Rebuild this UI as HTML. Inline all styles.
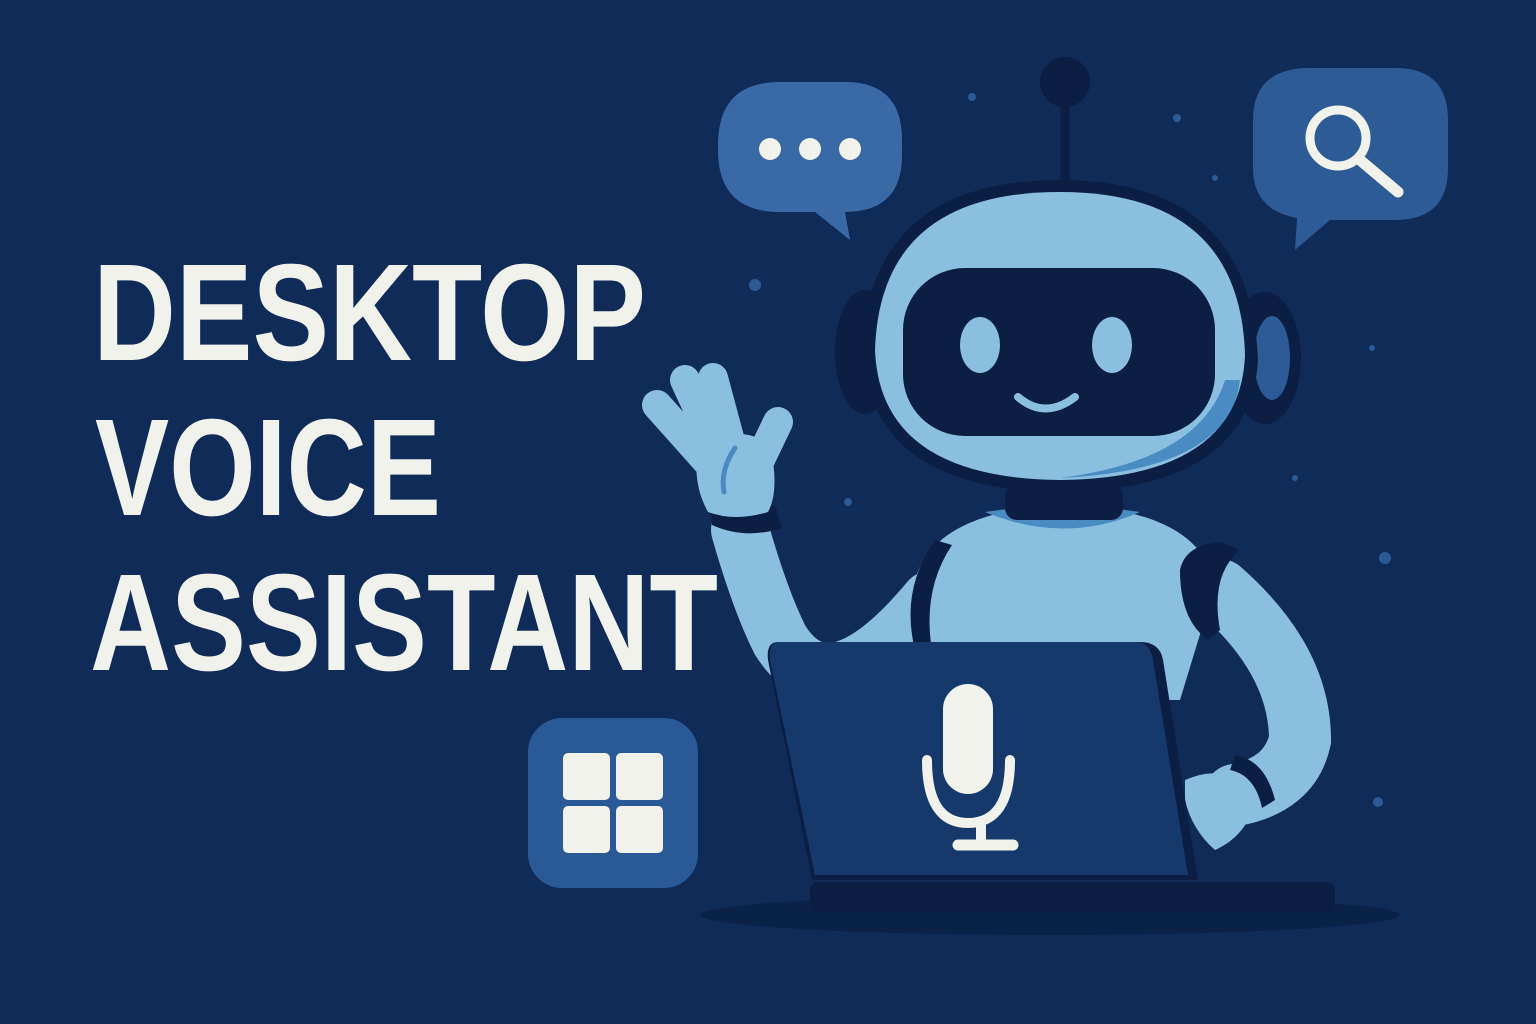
<!DOCTYPE html>
<html><head><meta charset="utf-8"><style>
html,body{margin:0;padding:0;background:#0f2b57;}
svg{display:block}
</style></head><body>
<svg width="1536" height="1024" viewBox="0 0 1536 1024" xmlns="http://www.w3.org/2000/svg">
<rect width="1536" height="1024" fill="#0f2b57"/>
<g font-family="'Liberation Sans Narrow','Liberation Sans',sans-serif" font-weight="bold" fill="#f2f2ec" font-size="138">
<text x="93" y="360" textLength="553" lengthAdjust="spacingAndGlyphs">DESKTOP</text>
<text x="95" y="515" textLength="346" lengthAdjust="spacingAndGlyphs">VOICE</text>
<text x="90" y="670" textLength="628" lengthAdjust="spacingAndGlyphs">ASSISTANT</text>
</g>
<g fill="#2c5a94">
<circle cx="972" cy="97" r="4"/><circle cx="1177" cy="118" r="4"/><circle cx="1215" cy="178" r="3"/>
<circle cx="755" cy="285" r="6"/><circle cx="1372" cy="348" r="3"/><circle cx="1295" cy="478" r="3"/>
<circle cx="848" cy="502" r="4"/><circle cx="1385" cy="558" r="6"/><circle cx="1378" cy="802" r="5"/>
</g>
<path d="M780 82 H845 Q902 82 902 140 V155 Q902 212 845 212 L850 240 L815 212 H780 Q718 212 718 150 V145 Q718 82 780 82Z" fill="#3a6aa6"/>
<circle cx="770" cy="149" r="11" fill="#f2f2ec"/><circle cx="810" cy="149" r="11" fill="#f2f2ec"/><circle cx="850" cy="149" r="11" fill="#f2f2ec"/>
<path d="M1310 68 H1395 Q1448 68 1448 120 V168 Q1448 220 1395 220 H1330 L1295 250 L1297 218 Q1253 210 1253 168 V120 Q1253 68 1310 68Z" fill="#2d5b96"/>
<circle cx="1338" cy="138" r="28" fill="none" stroke="#f2f2ec" stroke-width="9"/>
<line x1="1360" y1="160" x2="1398" y2="192" stroke="#f2f2ec" stroke-width="11" stroke-linecap="round"/>
<rect x="528" y="718" width="170" height="170" rx="34" fill="#2a5a95"/>
<g fill="#f2f2ec">
<rect x="563" y="753" width="47" height="47" rx="5"/><rect x="616" y="753" width="47" height="47" rx="5"/>
<rect x="563" y="806" width="47" height="47" rx="5"/><rect x="616" y="806" width="47" height="47" rx="5"/>
</g>
<ellipse cx="1050" cy="915" rx="350" ry="20" fill="#0b2248"/>
<line x1="1065" y1="90" x2="1065" y2="190" stroke="#0b1f44" stroke-width="9"/>
<circle cx="1065" cy="82" r="25" fill="#0b1f44"/>
<!-- raised arm -->
<path d="M930 600 Q830 720 780 640 Q760 600 740 530" fill="none" stroke="#8bbfe0" stroke-width="58" stroke-linecap="round"/>
<path d="M710 505 Q745 520 775 505 L782 528 Q745 540 712 525Z" fill="#0b1f44"/>
<g stroke="#8bbfe0" stroke-linecap="round" fill="none">
<line x1="715" y1="470" x2="657" y2="405" stroke-width="30"/>
<line x1="722" y1="460" x2="685" y2="380" stroke-width="30"/>
<line x1="735" y1="460" x2="713" y2="378" stroke-width="30"/>
<line x1="755" y1="470" x2="778" y2="422" stroke-width="30"/>
</g>
<path d="M700 440 Q745 425 770 445 Q780 490 768 512 Q735 522 708 512 Q690 480 700 440Z" fill="#8bbfe0"/>
<path d="M735 448 Q720 470 724 492" fill="none" stroke="#4a8cc2" stroke-width="5" stroke-linecap="round"/>
<!-- body -->
<path d="M915 580 Q935 510 1065 505 Q1200 510 1215 585 L1180 700 L910 700Z" fill="#8bbfe0"/>
<path d="M985 512 Q1065 545 1140 512 Q1065 500 985 512Z" fill="#4a8cc2"/>
<rect x="1005" y="485" width="118" height="35" rx="12" fill="#0b1f44"/>
<path d="M935 540 Q900 590 915 650 L932 650 Q922 590 952 545Z" fill="#0b1f44"/>
<!-- right arm -->
<path d="M1220 590 Q1300 660 1300 740 Q1290 785 1235 795" fill="none" stroke="#8bbfe0" stroke-width="62" stroke-linecap="round"/>
<path d="M1180 570 Q1185 545 1220 542 L1240 550 Q1210 575 1220 630 L1208 640 Q1180 620 1180 570Z" fill="#0b1f44"/>
<path d="M1185 780 Q1230 760 1255 800 Q1248 835 1215 850 Q1192 830 1185 800Z" fill="#8bbfe0"/>
<path d="M1235 755 Q1265 760 1275 800 L1262 808 Q1255 775 1230 770Z" fill="#0b1f44"/>
<!-- head -->
<ellipse cx="865" cy="352" rx="30" ry="62" fill="#0b1f44"/>
<ellipse cx="1265" cy="358" rx="36" ry="66" fill="#0b1f44"/>
<ellipse cx="1272" cy="358" rx="18" ry="42" fill="#2d5b96"/>
<path d="M1060 180 Q1250 180 1258 360 Q1250 490 1060 492 Q870 490 862 350 Q870 180 1060 180Z" fill="#0b1f44"/>
<path d="M1060 192 Q1240 192 1245 355 Q1240 478 1060 480 Q880 478 875 350 Q880 192 1060 192Z" fill="#8bbfe0"/>
<path d="M1240 380 Q1230 470 1060 478 Q1200 460 1225 380Z" fill="#4a8cc2"/>
<rect x="903" y="268" width="312" height="168" rx="62" fill="#0b1f44"/>
<ellipse cx="980" cy="345" rx="20" ry="28" fill="#8bbfe0"/>
<ellipse cx="1112" cy="345" rx="20" ry="28" fill="#8bbfe0"/>
<path d="M1018 397 Q1045 420 1075 397" fill="none" stroke="#8bbfe0" stroke-width="8" stroke-linecap="round"/>
<!-- laptop -->
<path d="M778 642 H1140 Q1160 642 1163 660 L1198 880 H812 L768 660 Q766 642 778 642Z" fill="#0b1f44"/>
<path d="M780 642 H1135 Q1150 642 1153 660 L1188 875 H815 L770 660 Q768 642 780 642Z" fill="#15396b"/>
<rect x="810" y="882" width="525" height="30" rx="8" fill="#0b1f44"/>
<rect x="943" y="684" width="50" height="110" rx="25" fill="#f2f2ec"/>
<path d="M927 760 Q927 823 968 823 Q1010 823 1010 760" fill="none" stroke="#f2f2ec" stroke-width="10" stroke-linecap="round"/>
<line x1="981" y1="825" x2="981" y2="845" stroke="#f2f2ec" stroke-width="10"/>
<line x1="958" y1="845" x2="1013" y2="845" stroke="#f2f2ec" stroke-width="11" stroke-linecap="round"/>
</svg>
</body></html>
